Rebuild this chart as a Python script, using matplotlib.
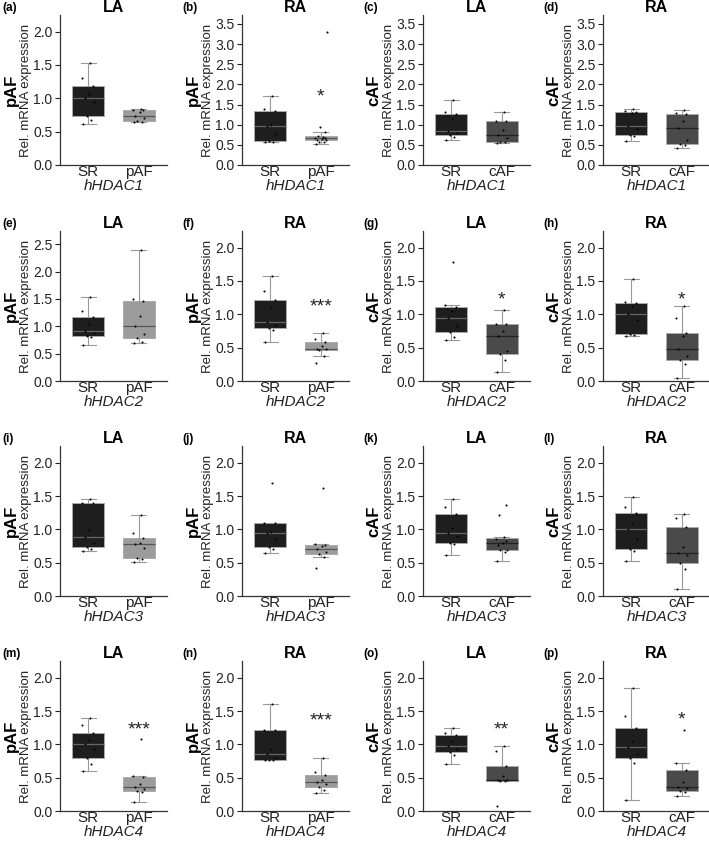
import numpy as np
import matplotlib
matplotlib.use("Agg")
import matplotlib.pyplot as plt

plt.rcParams['font.family'] = ['Liberation Sans', 'DejaVu Sans']

# ---------------- data ----------------
panel_letters = list("abcdefghijklmnop")
genes = ["hHDAC1"] * 4 + ["hHDAC2"] * 4 + ["hHDAC3"] * 4 + ["hHDAC4"] * 4
atria = ["LA", "RA", "LA", "RA"] * 4
af_types = ["pAF", "pAF", "cAF", "cAF"] * 4
group_labels_sr = "SR"

sr_a = [0.61, 0.67, 0.73, 0.95, 1.00, 1.07, 1.18, 1.30, 1.53]
af_a = [0.64, 0.65, 0.66, 0.70, 0.74, 0.80, 0.83, 0.83, 0.84]
sr_b = [0.56, 0.58, 0.59, 0.78, 0.96, 1.00, 1.35, 1.38, 1.72]
af_b = [0.53, 0.56, 0.58, 0.61, 0.63, 0.65, 0.66, 0.67, 0.69, 0.71, 0.82, 0.95, 3.31]
sr_c = [0.62, 0.70, 0.74, 0.80, 0.85, 1.13, 1.27, 1.32, 1.61]
af_c = [0.54, 0.56, 0.58, 0.66, 0.74, 0.88, 1.09, 1.10, 1.32]
sr_d = [0.60, 0.72, 0.74, 0.90, 0.97, 1.30, 1.32, 1.33, 1.39]
af_d = [0.43, 0.50, 0.52, 0.62, 0.91, 1.10, 1.26, 1.30, 1.36]

sr_e = [0.66, 0.80, 0.83, 0.87, 0.92, 1.05, 1.16, 1.28, 1.53]
af_e = [0.69, 0.72, 0.78, 0.86, 1.01, 1.18, 1.46, 1.50, 2.40]
sr_f = [0.59, 0.76, 0.79, 0.84, 0.89, 1.09, 1.22, 1.35, 1.58]
af_f = [0.27, 0.37, 0.47, 0.475, 0.48, 0.52, 0.59, 0.63, 0.72]
sr_g = [0.61, 0.66, 0.73, 0.82, 0.94, 1.05, 1.11, 1.14, 1.79]
af_g = [0.14, 0.31, 0.41, 0.45, 0.67, 0.75, 0.85, 0.86, 1.07]
sr_h = [0.68, 0.69, 0.70, 0.92, 1.01, 1.12, 1.17, 1.18, 1.53]
af_h = [0.05, 0.26, 0.31, 0.37, 0.48, 0.68, 0.72, 0.95, 1.12]

sr_i = [0.68, 0.70, 0.74, 0.80, 0.88, 0.99, 1.39, 1.40, 1.46]
af_i = [0.51, 0.55, 0.57, 0.72, 0.78, 0.80, 0.87, 0.95, 1.22]
sr_j = [0.65, 0.70, 0.73, 0.85, 0.94, 0.96, 1.10, 1.10, 1.69]
af_j = [0.42, 0.58, 0.63, 0.66, 0.70, 0.75, 0.76, 0.78, 1.62]
sr_k = [0.61, 0.78, 0.80, 0.90, 0.94, 1.02, 1.23, 1.34, 1.45]
af_k = [0.52, 0.66, 0.69, 0.69, 0.76, 0.79, 0.82, 0.86, 0.88, 1.21, 1.37]
sr_l = [0.53, 0.68, 0.71, 0.86, 1.00, 1.09, 1.24, 1.34, 1.49]
af_l = [0.10, 0.41, 0.49, 0.62, 0.65, 0.74, 1.03, 1.17, 1.23]

sr_m = [0.60, 0.70, 0.80, 0.93, 1.00, 1.06, 1.17, 1.29, 1.40]
af_m = [0.13, 0.29, 0.30, 0.33, 0.36, 0.41, 0.51, 0.53, 1.08]
sr_n = [0.76, 0.77, 0.77, 0.80, 0.85, 0.93, 1.21, 1.22, 1.60]
af_n = [0.27, 0.31, 0.36, 0.40, 0.44, 0.47, 0.54, 0.58, 0.79]
sr_o = [0.70, 0.84, 0.89, 0.93, 0.97, 1.05, 1.14, 1.17, 1.24]
af_o = [0.08, 0.45, 0.45, 0.46, 0.47, 0.53, 0.68, 0.90, 0.97]
sr_p = [0.16, 0.72, 0.79, 0.85, 0.96, 1.05, 1.25, 1.42, 1.84]
af_p = [0.22, 0.28, 0.30, 0.34, 0.36, 0.43, 0.61, 0.72, 1.21]

sr_values = [sr_a, sr_b, sr_c, sr_d, sr_e, sr_f, sr_g, sr_h,
             sr_i, sr_j, sr_k, sr_l, sr_m, sr_n, sr_o, sr_p]
af_values = [af_a, af_b, af_c, af_d, af_e, af_f, af_g, af_h,
             af_i, af_j, af_k, af_l, af_m, af_n, af_o, af_p]

significance = ["", "*", "", "", "", "***", "*", "*",
                "", "", "", "", "***", "***", "**", "*"]
star_y = [0, 1.86, 0, 0, 0, 1.22, 1.33, 1.33,
          0, 0, 0, 0, 1.32, 1.46, 1.32, 1.48]

y_max = [2.25, 3.72, 3.72, 3.72, 2.74] + [2.25] * 11
y_tick_top = [2.0, 3.5, 3.5, 3.5, 2.5] + [2.0] * 11

# ---------------- style ----------------
W, H = 709, 847
fig = plt.figure(figsize=(W / 100, H / 100), dpi=100)
fig.patch.set_facecolor("white")

col_left = [60, 242, 423, 603]
row_top = [15, 231, 446, 661]
ax_w, ax_h = 107, 150

box_colors = {"SR": "#1e1e1e", "pAF": "#9c9c9c", "cAF": "#4a4a4a"}
median_colors = {"SR": "#666666", "pAF": "#555555", "cAF": "#222222"}


def jitter(n):
    pattern = np.array([-0.10, 0.06, -0.03, 0.11, -0.07, 0.02, 0.09, -0.12, 0.04, -0.05, 0.08, -0.01, 0.12])
    return pattern[:n]


for i in range(16):
    r, c = divmod(i, 4)
    ax = fig.add_axes([col_left[c] / W, 1 - (row_top[r] + ax_h) / H, ax_w / W, ax_h / H])
    groups = [sr_values[i], af_values[i]]
    names = [group_labels_sr, af_types[i]]
    bp = ax.boxplot(groups, positions=[0, 1], widths=0.64, patch_artist=True,
                    showfliers=False, whis=1.5, capwidths=0.3,
                    whiskerprops=dict(color="#999999", linewidth=0.8),
                    capprops=dict(color="#999999", linewidth=0.8),
                    medianprops=dict(linewidth=0.9))
    for k, name in enumerate(names):
        bp["boxes"][k].set_facecolor(box_colors[name])
        bp["boxes"][k].set_edgecolor("#aaaaaa")
        bp["boxes"][k].set_linewidth(0.7)
        bp["medians"][k].set_color(median_colors[name])
    for k, vals in enumerate(groups):
        vals = np.asarray(vals)
        ax.scatter(k + jitter(len(vals)), vals, s=2.2, color="black", zorder=5, linewidths=0)

    ax.set_xlim(-0.56, 1.56)
    ax.set_ylim(0, y_max[i])
    ticks = np.arange(0, y_tick_top[i] + 0.01, 0.5)
    ax.set_yticks(ticks)
    ax.set_yticklabels([f"{v:.1f}" for v in ticks])
    ax.set_xticks([0, 1])
    ax.set_xticklabels(names)
    ax.tick_params(axis="y", labelsize=10, length=3.5, width=0.8, pad=2, colors="#222222")
    ax.tick_params(axis="x", labelsize=11, length=0, pad=0, colors="#222222")
    for s in ["top", "right"]:
        ax.spines[s].set_visible(False)
    for s in ["left", "bottom"]:
        ax.spines[s].set_linewidth(0.9)
        ax.spines[s].set_color("#333333")
    ax.set_xlabel(genes[i], fontsize=11, style="italic", labelpad=0, color="#222222")
    ax.set_title(atria[i], fontsize=11.5, fontweight="bold", pad=0.5)
    ax.text(-34 / ax_w, 0.5, "Rel. mRNA expression", transform=ax.transAxes,
            rotation=90, ha="center", va="center", fontsize=9.5, color="#222222")
    ax.text(-49 / ax_w, 0.5, af_types[i], transform=ax.transAxes,
            rotation=90, ha="center", va="center", fontsize=12, fontweight="bold")
    if significance[i]:
        ax.annotate(significance[i], xy=(1, star_y[i]), xytext=(0, -8.4),
                    textcoords="offset points", ha="center", va="baseline",
                    fontsize=14, color="#222222")
    lx = max(col_left[c] - 60, 2)
    fig.text(lx / W, 1 - (row_top[r] - 13) / H, f"({panel_letters[i]})",
             ha="left", va="top", fontsize=8.5, fontweight="bold")

fig.savefig("out.png", dpi=100, facecolor="white")
